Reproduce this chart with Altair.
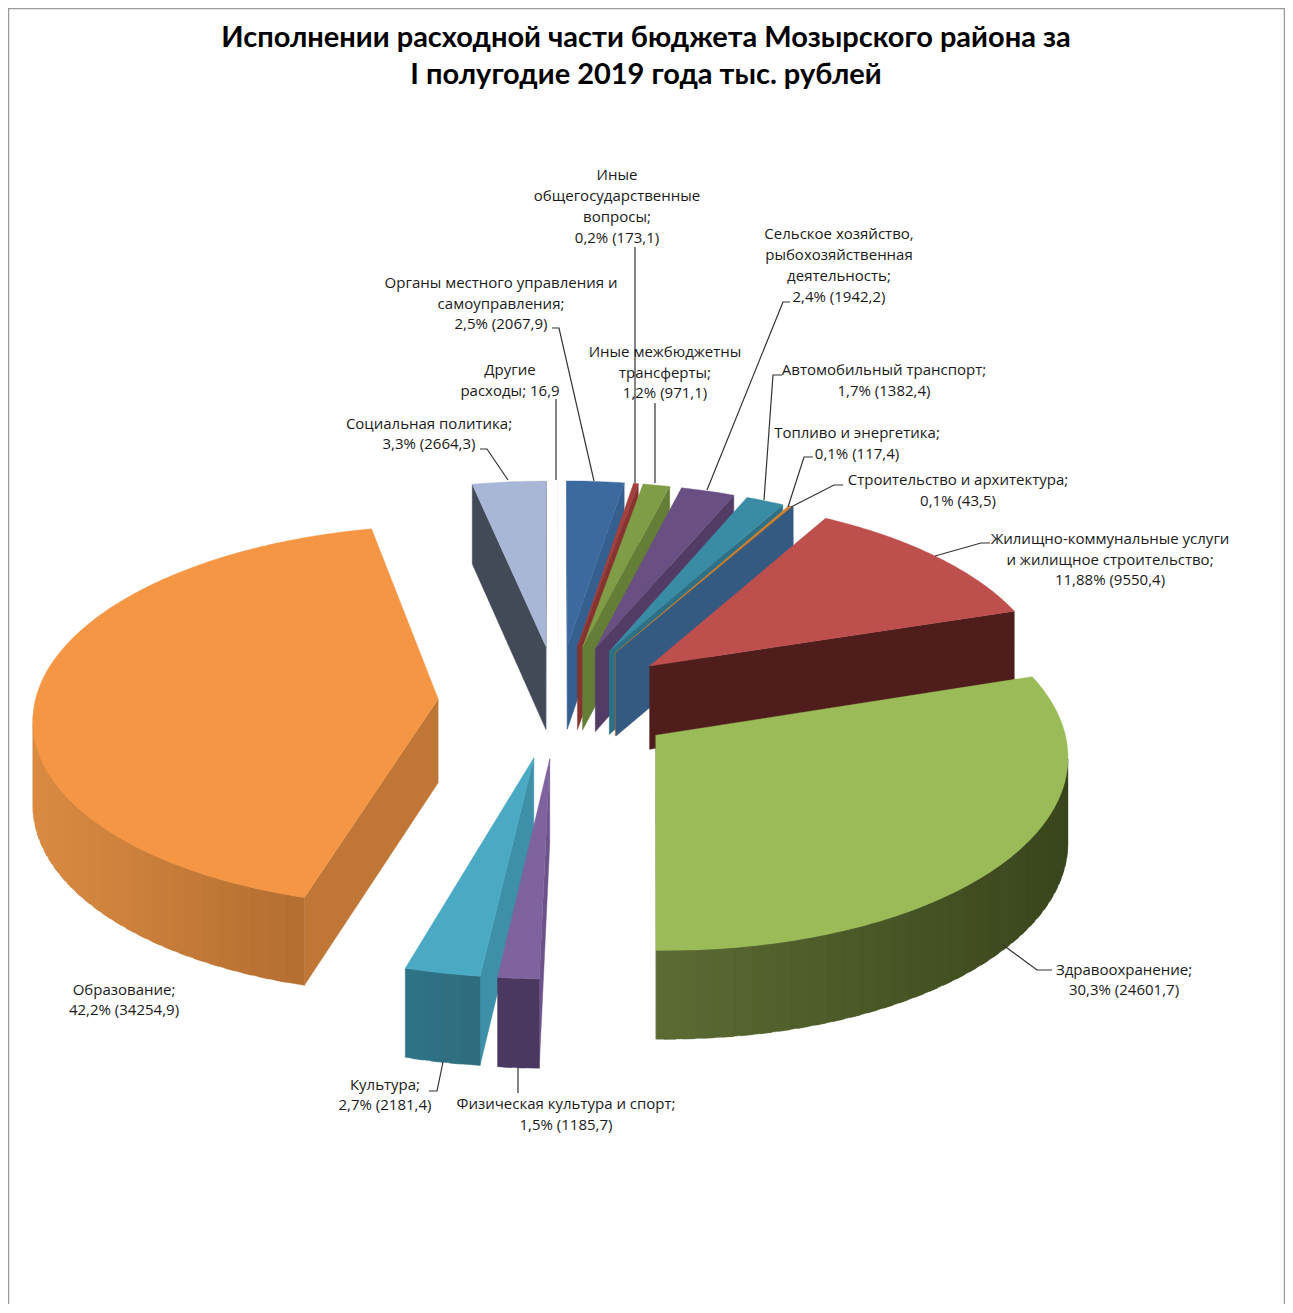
import math
import altair as alt

# ---------- data ----------
CATEGORIES = ["Органы местного управления и самоуправления", "Иные общегосударственные вопросы",
              "Иные межбюджетны трансферты", "Сельское хозяйство, рыбохозяйственная деятельность",
              "Автомобильный транспорт", "Топливо и энергетика", "Строительство и архитектура",
              "Жилищно-коммунальные услуги и жилищное строительство", "Здравоохранение",
              "Физическая культура и спорт", "Культура", "Образование", "Социальная политика",
              "Другие расходы"]
VALUES = [2067.9, 173.1, 971.1, 1942.2, 1382.4, 117.4, 43.5, 9550.4, 24601.7, 1185.7, 2181.4, 34254.9, 2664.3, 16.9]
TITLE_LINES = ["Исполнении расходной части бюджета Мозырского района за", "I полугодие 2019 года тыс. рублей"]
LABEL_LINES = [
    ["Органы местного управления и", "самоуправления;", "2,5% (2067,9)"],
    ["Иные", "общегосударственные", "вопросы;", "0,2% (173,1)"],
    ["Иные межбюджетны", "трансферты;", "1,2% (971,1)"],
    ["Сельское хозяйство,", "рыбохозяйственная", "деятельность;", "2,4% (1942,2)"],
    ["Автомобильный транспорт;", "1,7% (1382,4)"],
    ["Топливо и энергетика;", "0,1% (117,4)"],
    ["Строительство и архитектура;", "0,1% (43,5)"],
    ["Жилищно-коммунальные услуги", "и жилищное строительство;", "11,88% (9550,4)"],
    ["Здравоохранение;", "30,3% (24601,7)"],
    ["Физическая культура и спорт;", "1,5% (1185,7)"],
    ["Культура;", "2,7% (2181,4)"],
    ["Образование;", "42,2% (34254,9)"],
    ["Социальная политика;", "3,3% (2664,3)"],
    ["Другие", "расходы; 16,9"],
]

# ---------- styles ----------
TOP = ["#3c6a9e", "#a33f3c", "#7f9c47", "#6a5082", "#3a8ca5", "#d0802f", "#355a82",
       "#bd4f4c", "#9bbb59", "#7f639e", "#4aaac4", "#f59644", "#a9b7d7", "#fdeeee"]
START_WALL = ["#345f8f", "#873330", "#647e38", "#523c66", "#2e7085", "#a86825", "#355a82",
              "#8a3a38", "#6f8a3e", "#6d5389", "#3e90a8", "#bf7636", "#424a58", "#ffffff"]
END_WALL = ["#345f8f", "#873330", "#647e38", "#523c66", "#2e7085", "#a86825", "#355a82",
            "#4f1d1c", "#5c6b33", "#6d5389", "#3e90a8", "#bf7636", "#424a58", "#ffffff"]
RIM_LEFT = ["#345f8f", "#873330", "#647e38", "#523c66", "#2e7085", "#a86825", "#355a82",
            "#4f1d1c", "#5c6b33", "#4a3860", "#2f7488", "#da8b42", "#424a58", "#ffffff"]
RIM_RIGHT = ["#345f8f", "#873330", "#647e38", "#523c66", "#2e7085", "#a86825", "#355a82",
             "#4f1d1c", "#39451c", "#4a3860", "#2f6a7a", "#b26d30", "#424a58", "#ffffff"]

# text centre x, first line y, line step
LABEL_POS = [(501, 283, 20.5), (617, 175, 21), (665, 352, 20.5), (839, 234, 21), (884, 370, 21),
             (857, 433, 21), (958, 480, 21), (1110, 539, 20.5), (1124, 970, 20), (566, 1104, 21),
             (385, 1085, 20), (124, 990, 20), (429, 424, 20), (510, 370, 21)]
LEADERS = [
    [(552, 328), (559, 328), (594, 481)],
    [(635, 247), (635, 483)],
    [(655, 403), (655, 483)],
    [(790, 302), (783, 302), (707, 490)],
    [(782, 375), (773, 375), (764, 500)],
    [(813, 457), (804, 457), (788, 507)],
    [(843, 485), (834, 485), (791, 507)],
    [(990, 543), (981, 543), (935, 556)],
    [(1052, 970), (1037, 970), (1003, 945)],
    [(518, 1068), (518, 1093)],
    [(429, 1091), (437, 1091), (443, 1062)],
    [(480, 449), (487, 449), (508, 480)],
    [(556, 399), (556, 480)],
]

# ---------- 3-D pie geometry (page pixels minus the 8px margin) ----------
OFF = 8
CX, CY = 558 - OFF, 701 - OFF
RADIUS, EXPLODE, TILT, DIST, DEPTH = 403, 120, 0.47, 4500, 84


def project(X, Y, z=0.0):
    s = DIST / (DIST - Y)
    return (CX + X * s, CY + Y * TILT * s + z * s ** 0.5)


def area(poly):
    return sum(poly[i][0] * poly[(i + 1) % len(poly)][1] - poly[(i + 1) % len(poly)][0] * poly[i][1]
               for i in range(len(poly)))


def mix(c1, c2, t):
    a = [int(c1[i:i + 2], 16) for i in (1, 3, 5)]
    b = [int(c2[i:i + 2], 16) for i in (1, 3, 5)]
    return "#%02x%02x%02x" % tuple(round(p + (q - p) * t) for p, q in zip(a, b))


def feature(poly, fill):
    ring = [[round(x, 2), round(y, 2)] for x, y in poly]
    ring.append(ring[0])
    return {"type": "Feature", "properties": {"fill": fill},
            "geometry": {"type": "Polygon", "coordinates": [ring]}}


total = sum(VALUES)
spans, acc = [], 0.0
for v in VALUES:
    spans.append((acc, acc + v / total * 360))
    acc += v / total * 360
order = sorted(range(len(VALUES)), key=lambda i: -math.cos(math.radians(sum(spans[i]) / 2)))

features = []
for i in order:
    a0, a1 = spans[i]
    mid = math.radians((a0 + a1) / 2)
    ex, ey = EXPLODE * math.sin(mid), -EXPLODE * math.cos(mid)

    def rim(deg, z=0.0):
        r = math.radians(deg)
        return project(ex + RADIUS * math.sin(r), ey - RADIUS * math.cos(r), z)

    apex, apex_b = project(ex, ey), project(ex, ey, DEPTH)
    # radial walls
    w0 = [apex, rim(a0), rim(a0, DEPTH), apex_b]
    w1 = [apex, rim(a1), rim(a1, DEPTH), apex_b]
    if area(w0) < 0:
        features.append(feature(w0, START_WALL[i]))
    if area(w1) > 0:
        features.append(feature(w1, END_WALL[i]))
    # outer wall, in strips for the gradient; each strip runs on under the next
    n = max(1, math.ceil((a1 - a0) / 2.5))
    step = (a1 - a0) / n
    strips = []
    for k in range(n):
        p, q = a0 + k * step, a0 + (k + 1) * step
        probe = [rim(p), rim(q), rim(q, DEPTH), rim(p, DEPTH)]
        if area(probe) < 0:
            q2 = min(a1, q + step * 0.6)
            strips.append([rim(p), rim(q2), rim(q2, DEPTH), rim(p, DEPTH)])
    if strips:
        xs = [pt[0] for st in strips for pt in st]
        lo, hi = min(xs), max(xs)
        for st in strips:
            t = ((st[0][0] + st[1][0]) / 2 - lo) / max(hi - lo, 1)
            features.append(feature(st, mix(RIM_LEFT[i], RIM_RIGHT[i], t)))
    # top face
    m = max(2, math.ceil(a1 - a0))
    features.append(feature([apex] + [rim(a0 + (a1 - a0) * k / m) for k in range(m + 1)], TOP[i]))

pie = alt.Chart(alt.Data(values=features)).mark_geoshape(strokeWidth=0.4, opacity=1).encode(
    color=alt.Color("properties.fill:N", scale=None, legend=None),
    stroke=alt.Stroke("properties.fill:N", scale=None, legend=None),
).project(type="identity", scale=1, translate=[0, 0])

# ---------- leaders, labels, title, frame ----------
W, H = 1277, 1296
leader_rows = [{"id": k, "i": j, "x": x - OFF, "y": y - OFF}
               for k, pts in enumerate(LEADERS) for j, (x, y) in enumerate(pts)]
leaders = alt.Chart(alt.Data(values=leader_rows)).mark_line(color="#333333", strokeWidth=1.2).encode(
    x=alt.X("x:Q", scale=None, axis=None), y=alt.Y("y:Q", scale=None, axis=None),
    detail="id:N", order="i:Q")

label_rows = [{"t": line, "x": LABEL_POS[k][0] - OFF, "y": LABEL_POS[k][1] + j * LABEL_POS[k][2] - OFF}
              for k, lines in enumerate(LABEL_LINES) for j, line in enumerate(lines)]
labels = alt.Chart(alt.Data(values=label_rows)).mark_text(
    font="Open Sans", fontSize=15, color="#1a1a1a", align="center", baseline="middle").encode(
    x=alt.X("x:Q", scale=None, axis=None), y=alt.Y("y:Q", scale=None, axis=None), text="t:N")

title_rows = [{"t": t, "x": 646 - OFF, "y": y - OFF} for t, y in zip(TITLE_LINES, (38, 75))]
title = alt.Chart(alt.Data(values=title_rows)).mark_text(
    font="Lato", fontSize=29, fontWeight="bold", color="#000000", align="center", baseline="middle").encode(
    x=alt.X("x:Q", scale=None, axis=None), y=alt.Y("y:Q", scale=None, axis=None), text="t:N")

frame_rows = [{"i": 0, "x": 0.5, "y": H}, {"i": 1, "x": 0.5, "y": 0.5},
              {"i": 2, "x": 1276.5, "y": 0.5}, {"i": 3, "x": 1276.5, "y": H}]
frame = alt.Chart(alt.Data(values=frame_rows)).mark_line(color="#9a9a9a", strokeWidth=1.5).encode(
    x=alt.X("x:Q", scale=None, axis=None), y=alt.Y("y:Q", scale=None, axis=None), order="i:Q")

chart = alt.layer(frame, pie, leaders, labels, title).properties(
    width=W, height=H, padding=0, autosize=alt.AutoSizeParams(type="none"), background="#ffffff"
).configure_view(stroke=None)

chart.save("out.html", embed_options={"renderer": "svg", "actions": False})
